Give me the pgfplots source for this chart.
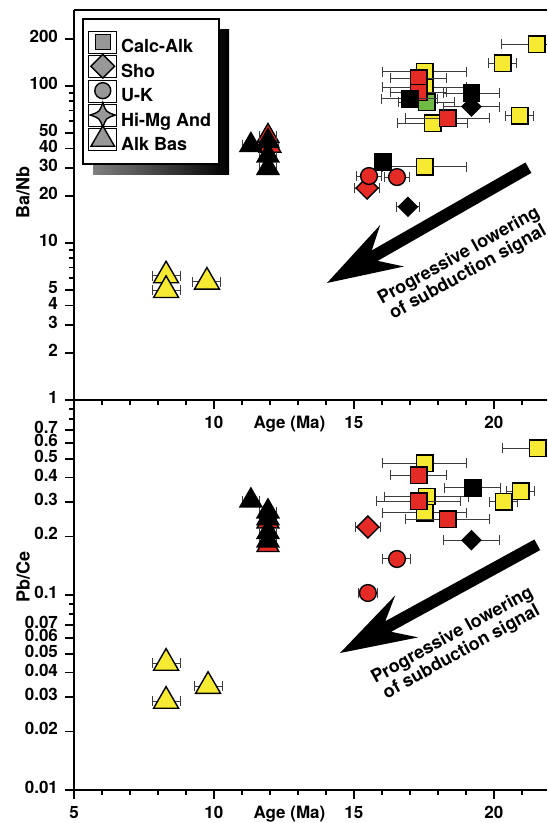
\documentclass[border=0pt]{standalone}
\usepackage{fontspec}
\setmainfont{TeX Gyre Heros}
\usepackage{pgfplots}
\pgfplotsset{compat=1.18}

\definecolor{yel}{RGB}{246,234,50}
\definecolor{rd}{RGB}{229,43,38}
\definecolor{grn}{RGB}{110,186,66}
\definecolor{legray}{RGB}{152,152,152}
\definecolor{ebar}{RGB}{60,60,60}

% four-pointed star for the Hi-Mg And legend entry
\pgfdeclareplotmark{star4}{%
  \pgfpathmoveto{\pgfqpoint{0pt}{\pgfplotmarksize}}%
  \pgfpathcurveto{\pgfqpoint{.25\pgfplotmarksize}{.25\pgfplotmarksize}}{\pgfqpoint{.25\pgfplotmarksize}{.25\pgfplotmarksize}}{\pgfqpoint{\pgfplotmarksize}{0pt}}%
  \pgfpathcurveto{\pgfqpoint{.25\pgfplotmarksize}{-.25\pgfplotmarksize}}{\pgfqpoint{.25\pgfplotmarksize}{-.25\pgfplotmarksize}}{\pgfqpoint{0pt}{-\pgfplotmarksize}}%
  \pgfpathcurveto{\pgfqpoint{-.25\pgfplotmarksize}{-.25\pgfplotmarksize}}{\pgfqpoint{-.25\pgfplotmarksize}{-.25\pgfplotmarksize}}{\pgfqpoint{-\pgfplotmarksize}{0pt}}%
  \pgfpathcurveto{\pgfqpoint{-.25\pgfplotmarksize}{.25\pgfplotmarksize}}{\pgfqpoint{-.25\pgfplotmarksize}{.25\pgfplotmarksize}}{\pgfqpoint{0pt}{\pgfplotmarksize}}%
  \pgfpathclose
  \pgfusepathqfillstroke
}

\pgfplotsset{
  pts/.style={only marks,
    error bars/x dir=both, error bars/x explicit,
    error bars/error bar style={ebar, line width=0.5pt},
    error bars/error mark options={rotate=90, ebar, mark size=2.5pt, line width=0.5pt}},
  ysq/.style={pts, mark=square*, mark size=4.1pt, mark options={fill=yel, draw=black, line width=0.7pt}},
  rsq/.style={pts, mark=square*, mark size=4.1pt, mark options={fill=rd, draw=black, line width=0.7pt}},
  gsq/.style={pts, mark=square*, mark size=4.1pt, mark options={fill=grn, draw=black, line width=0.7pt}},
  bsq/.style={pts, mark=square*, mark size=4.1pt, mark options={fill=black, draw=black, line width=0.7pt}},
  rdi/.style={pts, mark=square*, mark size=3.9pt, mark options={rotate=45, fill=rd, draw=black, line width=0.7pt}},
  bdi/.style={pts, mark=square*, mark size=3.3pt, mark options={rotate=45, fill=black, draw=black, line width=0.7pt}},
  rci/.style={pts, mark=*, mark size=4.2pt, mark options={fill=rd, draw=black, line width=0.7pt}},
  ytr/.style={pts, mark=triangle*, mark size=7.2pt, mark options={fill=yel, draw=black, line width=0.7pt}},
  btr/.style={pts, mark=triangle*, mark size=6.3pt, mark options={fill=black, draw=black, line width=0.7pt}},
  rtr/.style={pts, mark=triangle*, mark size=6.3pt, mark options={fill=rd, draw=black, line width=0.7pt}},
}

\begin{document}
\begin{tikzpicture}

% ---------- lower panel: Pb/Ce ----------
\begin{axis}[at={(0pt,0pt)}, anchor=south west,
  scale only axis, width=236.5pt, height=195pt,
  xmin=5, xmax=21.9, ymode=log, ymin=0.01, ymax=1,
  clip mode=individual,
  axis x line*=box, axis y line*=left,
  axis line style={line width=1pt},
  xtick pos=bottom, ytick pos=left,
  tick align=outside,
  major tick length=4.5pt, minor tick length=2.5pt,
  every tick/.style={black, line width=0.8pt},
  xtick={5,10,15,20},
  minor xtick={6,7,8,9,11,12,13,14,16,17,18,19,21},
  xticklabels={5,10,15,20},
  typeset ticklabels with strut,
  tick label style={font=\fontsize{8.5}{9}\bfseries\selectfont},
  ytick={0.01,0.02,0.03,0.04,0.05,0.06,0.07,0.1,0.2,0.3,0.4,0.5,0.6,0.7},
  yticklabels={0.01,0.02,0.03,0.04,0.05,0.06,0.07,0.1,0.2,0.3,0.4,0.5,0.6,0.7},
  minor ytick={0.08,0.09,0.8,0.9},
  ylabel={Pb/Ce},
  ylabel style={font=\fontsize{9}{10}\bfseries\selectfont, anchor=center,
    at={([xshift=-25.5pt]rel axis cs:0,0.546)}},
]
\addplot[ytr, forget plot] table[x=x, y=y, x error=e] {
x y e
8.29 0.0448 0.5
8.29 0.0286 0.5
9.79 0.0341 0.5
};
\addplot[rtr, forget plot] table[x=x, y=y, x error=e] {
x y e
11.93 0.238 0.3
11.93 0.180 0.3
};
\addplot[btr, forget plot] table[x=x, y=y, x error=e] {
x y e
11.32 0.305 0.3
11.93 0.268 0.3
11.93 0.247 0.3
11.93 0.210 0.3
11.93 0.190 0.3
};
\addplot[ysq, forget plot] table[x=x, y=y, x error=e] {
x y e
17.54 0.475 1.5
17.60 0.320 1.5
17.54 0.264 1.5
20.36 0.300 0.5
20.96 0.341 0.5
21.57 0.567 1.25
};
\addplot[rsq, forget plot] table[x=x, y=y, x error=e] {
x y e
17.32 0.412 1.0
17.32 0.303 1.5
18.36 0.245 1.5
};
\addplot[bsq, forget plot] table[x=x, y=y, x error=e] {
x y e
19.25 0.354 1.0
};
\addplot[bdi, forget plot] table[x=x, y=y, x error=e] {
x y e
19.2 0.191 1.0
};
\addplot[rdi, forget plot] table[x=x, y=y, x error=e] {
x y e
15.5 0.223 0.45
};
\addplot[rci, forget plot] table[x=x, y=y, x error=e] {
x y e
16.54 0.153 0.5
15.5 0.1024 0.35
};
\node[font=\fontsize{8.5}{9}\bfseries\selectfont, anchor=north]
  at ([yshift=-4.5pt]rel axis cs:0.4556,0) {\strut Age (Ma)};
\end{axis}

% ---------- upper panel: Ba/Nb ----------
\begin{axis}[at={(0pt,195pt)}, anchor=south west,
  scale only axis, width=236.5pt, height=195pt,
  xmin=5, xmax=21.9, ymode=log, ymin=1, ymax=305,
  clip mode=individual,
  axis x line*=box, axis y line*=left,
  axis line style={line width=1pt},
  xtick pos=bottom, ytick pos=left,
  tick align=outside,
  major tick length=4.5pt, minor tick length=2.5pt,
  every tick/.style={black, line width=0.8pt},
  xtick={5,10,15,20},
  minor xtick={6,7,8,9,11,12,13,14,16,17,18,19,21},
  xticklabels={,10,15,20},
  typeset ticklabels with strut,
  tick label style={font=\fontsize{8.5}{9}\bfseries\selectfont},
  ytick={1,2,3,4,5,10,20,30,40,50,100,200},
  yticklabels={1,2,3,4,5,10,20,30,40,50,100,200},
  minor ytick={6,7,8,9,60,70,80,90},
  ylabel={Ba/Nb},
  ylabel style={font=\fontsize{9}{10}\bfseries\selectfont, anchor=center,
    at={([xshift=-25.5pt]rel axis cs:0,0.533)}},
  legend style={at={(0.019,0.977)}, anchor=north west,
    draw=none, fill=none,
    font=\fontsize{9}{10}\bfseries\selectfont,
    inner xsep=2.5pt, inner ysep=5.75pt, row sep=-1pt, column sep=0pt,
    nodes={inner xsep=2pt, inner ysep=0pt, text height=6.8pt, text depth=2.2pt}},
  legend cell align=left,
  legend image code/.code={\path (-7pt,-2.5pt) rectangle (7pt,8.5pt);
    \draw[#1,overlay] plot coordinates {(0pt,3.2pt)};},
]
% legend frame with its shaded shadow
\shade[left color=black!50, right color=black]
  (rel axis cs:0.0402,0.5769) rectangle (rel axis cs:0.3277,0.9487);
\filldraw[fill=white, draw=black, line width=1pt]
  (rel axis cs:0.019,0.6051) rectangle (rel axis cs:0.3066,0.9769);

\addplot[ytr, forget plot] table[x=x, y=y, x error=e] {
x y e
8.29 6.2 0.5
8.29 5.0 0.5
9.75 5.65 0.5
};
\addplot[rtr, forget plot] table[x=x, y=y, x error=e] {
x y e
11.93 48 0.3
12.0 41.5 0.3
};
\addplot[btr, forget plot] table[x=x, y=y, x error=e] {
x y e
11.32 42 0.3
11.93 44.5 0.3
11.93 36 0.3
11.93 30 0.3
};
\addplot[ysq, forget plot] table[x=x, y=y, x error=e] {
x y e
17.54 123 1.5
17.54 98 1.5
17.82 58 1.25
17.54 30.5 1.5
20.32 140 0.5
20.93 64.5 0.5
21.54 185 1.25
};
\addplot[gsq, forget plot] table[x=x, y=y, x error=e] {
x y e
17.6 79 1.0
};
\addplot[rsq, forget plot] table[x=x, y=y, x error=e] {
x y e
17.32 112 1.0
17.32 91 1.0
18.36 62.5 1.5
};
\addplot[bdi, forget plot] table[x=x, y=y, x error=e] {
x y e
19.2 74 1.0
16.93 17 0.4
};
\addplot[bsq, forget plot] table[x=x, y=y, x error=e] {
x y e
17.0 83 1.0
19.2 90 1.0
16.04 32.8 0
};
\addplot[rdi, forget plot] table[x=x, y=y, x error=e] {
x y e
15.47 22.4 0.45
};
\addplot[rci, forget plot] table[x=x, y=y, x error=e] {
x y e
15.54 26.7 0.45
16.54 26.3 0.45
};
\node[font=\fontsize{8.5}{9}\bfseries\selectfont, anchor=north]
  at ([yshift=-4.5pt]rel axis cs:0.4556,0) {\strut Age (Ma)};

\addlegendimage{only marks, mark=square*, mark size=3.75pt, mark options={fill=legray, draw=black, line width=0.7pt}}
\addlegendentry{Calc-Alk}
\addlegendimage{only marks, mark=square*, mark size=4.2pt, mark options={rotate=45, fill=legray, draw=black, line width=0.7pt}}
\addlegendentry{Sho}
\addlegendimage{only marks, mark=*, mark size=4pt, mark options={fill=legray, draw=black, line width=0.7pt}}
\addlegendentry{U-K}
\addlegendimage{only marks, mark=star4, mark size=6.3pt, mark options={fill=legray, draw=black, line width=0.7pt}}
\addlegendentry{Hi-Mg And}
\addlegendimage{only marks, mark=triangle*, mark size=6.8pt, mark options={fill=legray, draw=black, line width=0.7pt}}
\addlegendentry{Alk Bas}
\end{axis}

% arrows and annotations
\fill[black] (126.5pt,253.5pt) -- (153.1pt,282.55pt) -- (148.85pt,269.75pt)
  -- (225.7pt,313.75pt) -- (228.7pt,308.55pt) -- (151.85pt,264.55pt)
  -- (165pt,261.75pt) -- cycle;
\node[rotate=29, align=center, inner sep=0pt, font=\fontsize{9}{9.5}\bfseries\selectfont]
  at (194.75pt,262.75pt) {Progressive lowering\\of subduction signal};

\fill[black] (133pt,68.5pt) -- (160.6pt,97.3pt) -- (155.65pt,84.4pt)
  -- (230.2pt,125.25pt) -- (233.1pt,119.95pt) -- (158.55pt,79.1pt)
  -- (172.1pt,76.3pt) -- cycle;
\node[rotate=29, align=center, inner sep=0pt, font=\fontsize{9}{9.5}\bfseries\selectfont]
  at (191.5pt,73pt) {Progressive lowering\\of subduction signal};

\pgfresetboundingbox
\path[use as bounding box] (-37pt,-16.5pt) rectangle (236.5pt,395pt);
\end{tikzpicture}
\end{document}
